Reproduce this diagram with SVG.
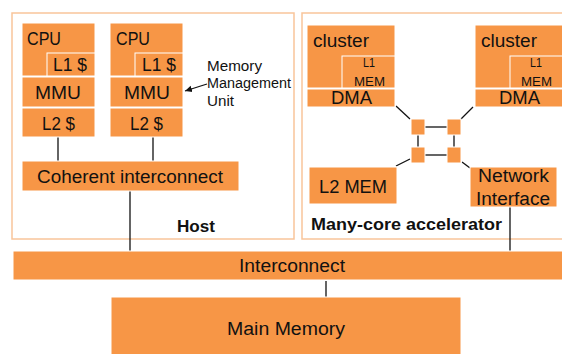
<svg xmlns="http://www.w3.org/2000/svg" width="562" height="354" viewBox="0 0 562 354">
<defs>
<style>
.box{fill:#f79646;stroke:#ffffff;stroke-width:1}
.cont{fill:#ffffff;stroke:#f9c59a;stroke-width:1.5}
.t{font-family:"Liberation Sans",Arial,sans-serif;fill:#111111}
.b{font-weight:bold}
.ln{stroke:#111111;stroke-width:1.3;fill:none}
</style>
<marker id="ah" markerWidth="8" markerHeight="8" refX="7" refY="4" orient="auto" markerUnits="userSpaceOnUse">
<path d="M0,0.8 L7,4 L0,7.2 z" fill="#111111"/>
</marker>
</defs>
<rect width="562" height="354" fill="#ffffff"/>
<g id="host">
<rect class="cont" x="12" y="13" width="282" height="226"/>
<text class="t b" x="177" y="232" font-size="17" textLength="38" lengthAdjust="spacingAndGlyphs">Host</text>
</g>
<g id="accelerator">
<rect class="cont" x="302" y="13" width="264" height="226"/>
<text class="t b" x="311" y="230" font-size="17" textLength="191" lengthAdjust="spacingAndGlyphs">Many-core accelerator</text>
</g>
<g id="connectors">
<line class="ln" x1="58" y1="137" x2="58" y2="161"/>
<line class="ln" x1="153" y1="137" x2="153" y2="161"/>
<line class="ln" x1="130" y1="191" x2="130" y2="251"/>
<line class="ln" x1="510" y1="207" x2="510" y2="251"/>
<line class="ln" x1="326" y1="281" x2="326" y2="297"/>
<line class="ln" x1="207" y1="84" x2="185" y2="91" marker-end="url(#ah)" stroke-width="1"/>
<line class="ln" x1="396" y1="106" x2="410" y2="119"/>
<line class="ln" x1="473" y1="107" x2="461" y2="119"/>
<line class="ln" x1="396" y1="166" x2="410" y2="159"/>
<line class="ln" x1="462" y1="162" x2="470" y2="168"/>
<line class="ln" x1="425" y1="127" x2="447" y2="127"/>
<line class="ln" x1="425" y1="155" x2="447" y2="155"/>
<line class="ln" x1="418" y1="135" x2="418" y2="148"/>
<line class="ln" x1="454" y1="135" x2="454" y2="148"/>
</g>
<g id="cpu1">
<rect class="box" x="22" y="23" width="73" height="53"/>
<rect class="box" x="47" y="53" width="48" height="23"/>
<text class="t" x="27" y="45" font-size="18" textLength="34" lengthAdjust="spacingAndGlyphs">CPU</text>
<text class="t" x="53" y="71" font-size="18" textLength="34" lengthAdjust="spacingAndGlyphs">L1 $</text>
</g>
<g id="mmu1">
<rect class="box" x="22" y="77" width="73" height="30"/>
<text class="t" x="35" y="99" font-size="18" textLength="46" lengthAdjust="spacingAndGlyphs">MMU</text>
</g>
<g id="l2c1">
<rect class="box" x="22" y="108" width="73" height="29"/>
<text class="t" x="42" y="130" font-size="18" textLength="33" lengthAdjust="spacingAndGlyphs">L2 $</text>
</g>
<g id="cpu2">
<rect class="box" x="110" y="23" width="73" height="53"/>
<rect class="box" x="135" y="53" width="48" height="23"/>
<text class="t" x="116" y="45" font-size="18" textLength="34" lengthAdjust="spacingAndGlyphs">CPU</text>
<text class="t" x="142" y="71" font-size="18" textLength="34" lengthAdjust="spacingAndGlyphs">L1 $</text>
</g>
<g id="mmu2">
<rect class="box" x="110" y="77" width="73" height="30"/>
<text class="t" x="124" y="99" font-size="18" textLength="46" lengthAdjust="spacingAndGlyphs">MMU</text>
</g>
<g id="l2c2">
<rect class="box" x="110" y="108" width="73" height="29"/>
<text class="t" x="130" y="130" font-size="18" textLength="33" lengthAdjust="spacingAndGlyphs">L2 $</text>
</g>
<g id="mmu-label">
<text class="t" x="207" y="71" font-size="14" textLength="55" lengthAdjust="spacingAndGlyphs">Memory</text>
<text class="t" x="207" y="88" font-size="14" textLength="84" lengthAdjust="spacingAndGlyphs">Management</text>
<text class="t" x="207" y="106" font-size="14" textLength="27" lengthAdjust="spacingAndGlyphs">Unit</text>
</g>
<g id="coherent">
<rect class="box" x="22" y="161" width="217" height="30"/>
<text class="t" x="37" y="183" font-size="18" textLength="186" lengthAdjust="spacingAndGlyphs">Coherent interconnect</text>
</g>
<g id="cluster1">
<rect class="box" x="307" y="25" width="88" height="63"/>
<rect class="box" x="342" y="56" width="53" height="32"/>
<text class="t" x="313" y="47" font-size="18" textLength="56" lengthAdjust="spacingAndGlyphs">cluster</text>
<text class="t" x="363" y="67" font-size="12.5" textLength="12" lengthAdjust="spacingAndGlyphs">L1</text>
<text class="t" x="354" y="86" font-size="12.5" textLength="31" lengthAdjust="spacingAndGlyphs">MEM</text>
</g>
<g id="dma1">
<rect class="box" x="307" y="89" width="88" height="18"/>
<text class="t" x="331" y="104" font-size="18" textLength="41" lengthAdjust="spacingAndGlyphs">DMA</text>
</g>
<g id="cluster2">
<rect class="box" x="475" y="25" width="90" height="63"/>
<rect class="box" x="510" y="56" width="55" height="32"/>
<text class="t" x="481" y="47" font-size="18" textLength="56" lengthAdjust="spacingAndGlyphs">cluster</text>
<text class="t" x="530" y="67" font-size="12.5" textLength="12" lengthAdjust="spacingAndGlyphs">L1</text>
<text class="t" x="521" y="86" font-size="12.5" textLength="31" lengthAdjust="spacingAndGlyphs">MEM</text>
</g>
<g id="dma2">
<rect class="box" x="475" y="89" width="90" height="18"/>
<text class="t" x="499" y="104" font-size="18" textLength="41" lengthAdjust="spacingAndGlyphs">DMA</text>
</g>
<g id="router-tl"><rect class="box" x="411" y="119" width="14" height="16"/></g>
<g id="router-tr"><rect class="box" x="447" y="119" width="14" height="16"/></g>
<g id="router-bl"><rect class="box" x="411" y="147" width="14" height="16"/></g>
<g id="router-br"><rect class="box" x="447" y="147" width="14" height="16"/></g>
<g id="l2mem">
<rect class="box" x="309" y="167" width="88" height="37"/>
<text class="t" x="319" y="193" font-size="18" textLength="68" lengthAdjust="spacingAndGlyphs">L2 MEM</text>
</g>
<g id="netif">
<rect class="box" x="470" y="167" width="87" height="40"/>
<text class="t" x="478" y="182" font-size="18" textLength="71" lengthAdjust="spacingAndGlyphs">Network</text>
<text class="t" x="476" y="205" font-size="18" textLength="74" lengthAdjust="spacingAndGlyphs">Interface</text>
</g>
<g id="interconnect">
<rect class="box" x="13" y="251" width="552" height="29"/>
<text class="t" x="239" y="272" font-size="18" textLength="106" lengthAdjust="spacingAndGlyphs">Interconnect</text>
</g>
<g id="main-memory">
<rect class="box" x="111" y="297" width="350" height="61"/>
<text class="t" x="227" y="335" font-size="18" textLength="118" lengthAdjust="spacingAndGlyphs">Main Memory</text>
</g>
</svg>
